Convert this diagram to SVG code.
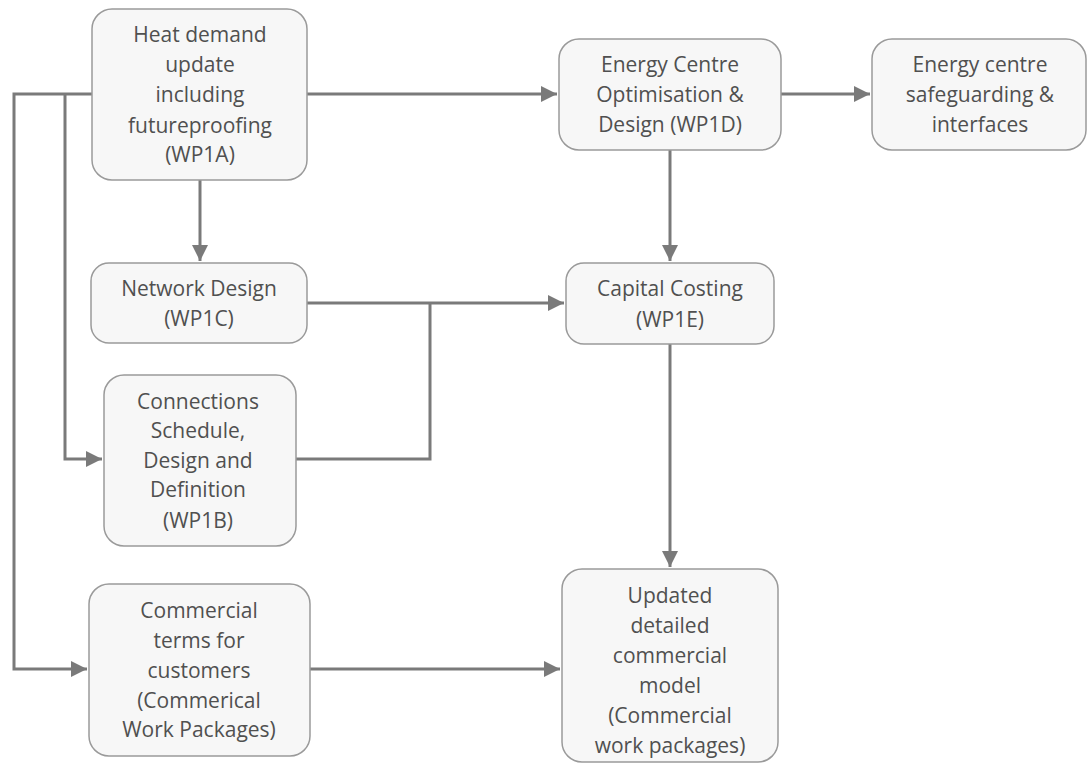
<svg xmlns="http://www.w3.org/2000/svg" width="1090" height="767" viewBox="0 0 1090 767">
<style>
.box{fill:#f7f7f7;stroke:#9a9a9a;stroke-width:1.5}
.t{font-family:"Open Sans","Noto Sans",sans-serif;font-size:21px;fill:#505050;text-anchor:middle}
.c{fill:none;stroke:#7a7a7a;stroke-width:3}
</style>
<defs>
<marker id="ah" viewBox="0 0 10 10" refX="10" refY="5" markerWidth="5.5" markerHeight="5.5" orient="auto" markerUnits="strokeWidth">
<path d="M0,0 L10,5 L0,10 z" fill="#7a7a7a"/>
</marker>
</defs>
<rect width="1090" height="767" fill="#ffffff"/>
<g id="connectors">
<path class="c" d="M307,94 H557" marker-end="url(#ah)"/>
<path class="c" d="M200,180 V261" marker-end="url(#ah)"/>
<path class="c" d="M92,94 H14 V669 H87" marker-end="url(#ah)"/>
<path class="c" d="M65,94 V459 H102" marker-end="url(#ah)"/>
<path class="c" d="M307,303 H564" marker-end="url(#ah)"/>
<path class="c" d="M296,459 H430 V303"/>
<path class="c" d="M781,94 H870" marker-end="url(#ah)"/>
<path class="c" d="M670,150 V261" marker-end="url(#ah)"/>
<path class="c" d="M670,344 V567" marker-end="url(#ah)"/>
<path class="c" d="M310,669 H560" marker-end="url(#ah)"/>
</g>
<g id="wp1a">
<rect class="box" x="92" y="9" width="215" height="171" rx="20"/>
<text class="t"><tspan x="200" y="42">Heat demand</tspan><tspan x="200" y="72">update</tspan><tspan x="200" y="102">including</tspan><tspan x="200" y="133">futureproofing</tspan><tspan x="200" y="162">(WP1A)</tspan></text>
</g>
<g id="wp1d">
<rect class="box" x="559" y="39" width="222" height="111" rx="20"/>
<text class="t"><tspan x="670" y="72">Energy Centre</tspan><tspan x="670" y="102">Optimisation &amp;</tspan><tspan x="670" y="132">Design (WP1D)</tspan></text>
</g>
<g id="safeguarding">
<rect class="box" x="872" y="39" width="214" height="111" rx="20"/>
<text class="t"><tspan x="980" y="72">Energy centre</tspan><tspan x="980" y="102">safeguarding &amp;</tspan><tspan x="980" y="132">interfaces</tspan></text>
</g>
<g id="wp1c">
<rect class="box" x="91" y="263" width="216" height="80" rx="18"/>
<text class="t"><tspan x="199" y="296">Network Design</tspan><tspan x="199" y="326">(WP1C)</tspan></text>
</g>
<g id="wp1e">
<rect class="box" x="566" y="263" width="208" height="81" rx="18"/>
<text class="t"><tspan x="670" y="296">Capital Costing</tspan><tspan x="670" y="327">(WP1E)</tspan></text>
</g>
<g id="wp1b">
<rect class="box" x="104" y="375" width="192" height="171" rx="20"/>
<text class="t"><tspan x="198" y="409">Connections</tspan><tspan x="198" y="438">Schedule,</tspan><tspan x="198" y="468">Design and</tspan><tspan x="198" y="497">Definition</tspan><tspan x="198" y="528">(WP1B)</tspan></text>
</g>
<g id="commercial-terms">
<rect class="box" x="89" y="584" width="221" height="172" rx="20"/>
<text class="t"><tspan x="199" y="618">Commercial</tspan><tspan x="199" y="648">terms for</tspan><tspan x="199" y="678">customers</tspan><tspan x="199" y="708">(Commerical</tspan><tspan x="199" y="737">Work Packages)</tspan></text>
</g>
<g id="updated-model">
<rect class="box" x="562" y="569" width="216" height="193" rx="20"/>
<text class="t"><tspan x="670" y="603">Updated</tspan><tspan x="670" y="633">detailed</tspan><tspan x="670" y="663">commercial</tspan><tspan x="670" y="693">model</tspan><tspan x="670" y="723">(Commercial</tspan><tspan x="670" y="753">work packages)</tspan></text>
</g>
</svg>
